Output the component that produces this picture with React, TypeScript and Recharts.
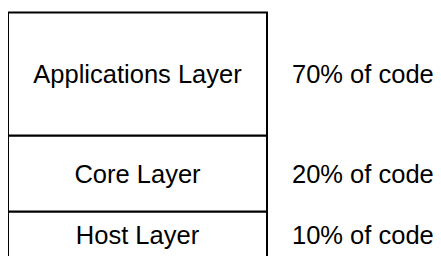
import React from 'react';
import { BarChart, Bar, XAxis, YAxis, LabelList } from 'recharts';

// bottom to top, as recharts stacks them
const layerKeys = ['host', 'core', 'app'];
const layerNames = ['Host Layer', 'Core Layer', 'Applications Layer'];
const codeShare = ['10% of code', '20% of code', '70% of code'];
// drawn box heights (px-ish units)
const layerHeights = [47, 76, 123];

const row: Record<string, number | string> = { name: 'stack' };
layerKeys.forEach((k, i) => {
    row[k] = layerHeights[i];
});
const data = [row];
const total = layerHeights.reduce((a, b) => a + b, 0);

const FONT = '"Liberation Sans", Arial, sans-serif';
const TOP = 4.5;

const sideLabel = (text: string) => (props: any) => {
    const { x, y, width, height } = props;
    return (
        <text
            x={x + width + 25}
            y={y + height / 2}
            dominantBaseline="central"
            textAnchor="start"
            fontFamily={FONT}
            fontSize={25.5}
            fill="#000"
        >
            {text}
        </text>
    );
};

const innerLabel = (text: string) => (props: any) => {
    const { x, y, width, height } = props;
    return (
        <text
            x={x + width / 2}
            y={y + height / 2}
            dominantBaseline="central"
            textAnchor="middle"
            fontFamily={FONT}
            fontSize={25.5}
            fill="#000"
        >
            {text}
        </text>
    );
};

export default function App() {
    return (
        <div style={{ width: 433, height: TOP + total }}>
            <BarChart
                width={433}
                height={TOP + total}
                data={data}
                margin={{ top: TOP, right: 174, bottom: 0, left: 0 }}
                barCategoryGap={0}
            >
                <XAxis dataKey="name" hide />
                <YAxis hide domain={[0, total]} />
                {layerKeys.map((k, i) => (
                    <Bar
                        key={k}
                        dataKey={k}
                        stackId="layers"
                        fill="#fff"
                        stroke="#000"
                        strokeWidth={2}
                        isAnimationActive={false}
                    >
                        <LabelList dataKey={k} content={innerLabel(layerNames[i])} />
                        <LabelList dataKey={k} content={sideLabel(codeShare[i])} />
                    </Bar>
                ))}
            </BarChart>
        </div>
    );
}
